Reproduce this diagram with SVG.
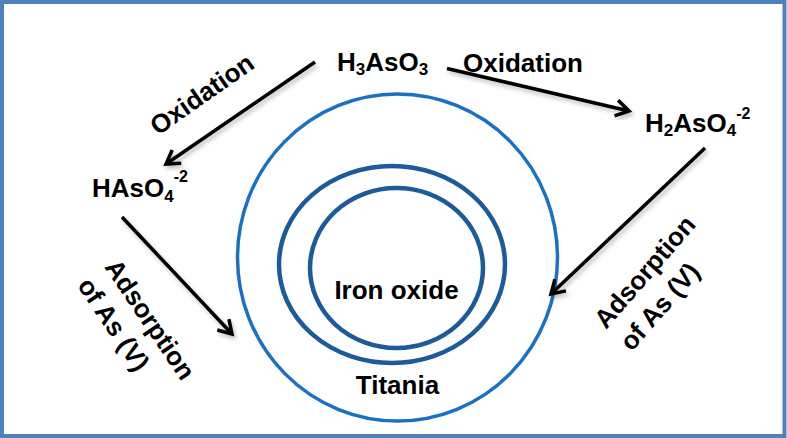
<svg xmlns="http://www.w3.org/2000/svg" width="787" height="438" viewBox="0 0 787 438">
<style>
text{font-family:"Liberation Sans",Arial,sans-serif;font-weight:bold;font-size:26px;fill:#000}
.sub{font-size:17px}
.sup{font-size:16px}
.conn{stroke:#000;stroke-width:3.5;fill:none;marker-end:url(#ah);filter:url(#sh)}
.outer{fill:none;stroke:#1a70c4;stroke-width:3.5}
.inner{fill:none;stroke:#1d5a9a;stroke-width:4.5}
</style>
<defs>
<marker id="ah" markerUnits="userSpaceOnUse" markerWidth="24" markerHeight="24" refX="0" refY="0" viewBox="-16 -12 20 24" orient="auto">
<path d="M-13,-8 L0,0 L-13,8" fill="none" stroke="#000" stroke-width="3.5" stroke-linejoin="miter"/>
</marker>
<filter id="sh" x="-20%" y="-20%" width="140%" height="140%">
<feDropShadow dx="2" dy="3" stdDeviation="2" flood-color="#000" flood-opacity="0.25"/>
</filter>
</defs>
<rect x="2" y="2" width="782.5" height="434" fill="#fff" stroke="#4f81bd" stroke-width="4"/>
<g id="titania">
<ellipse class="outer" cx="397.5" cy="257.5" rx="160" ry="163.5"/>
<text x="397.5" y="394" text-anchor="middle">Titania</text>
</g>
<g id="shell">
<ellipse class="inner" cx="392" cy="264.5" rx="113" ry="98.5"/>
</g>
<g id="ironoxide">
<ellipse class="inner" cx="396.5" cy="268" rx="86.5" ry="80"/>
<text x="396.5" y="299" text-anchor="middle">Iron oxide</text>
</g>
<g id="h3aso3">
<text x="337" y="71">H<tspan class="sub" dy="4">3</tspan><tspan dy="-4">AsO</tspan><tspan class="sub" dy="4">3</tspan></text>
</g>
<g id="h2aso4">
<text x="645" y="132">H<tspan class="sub" dy="4">2</tspan><tspan dy="-4">AsO</tspan><tspan class="sub" dy="4">4</tspan><tspan class="sup" dy="-17">-2</tspan></text>
</g>
<g id="haso4">
<text x="92" y="197">HAsO<tspan class="sub" dy="5">4</tspan><tspan class="sup" dy="-20">-2</tspan></text>
</g>
<g id="connectors">
<line class="conn" x1="315" y1="62" x2="166" y2="164"/>
<line class="conn" x1="447" y1="68.5" x2="629" y2="111"/>
<line class="conn" x1="122" y1="217" x2="232" y2="334"/>
<line class="conn" x1="705" y1="148" x2="551" y2="294"/>
</g>
<g id="labels">
<text transform="translate(207,101.5) rotate(-35)" text-anchor="middle">Oxidation</text>
<text x="463" y="72">Oxidation</text>
<text transform="translate(104,267) rotate(56)"><tspan x="0" y="0">Adsorption</tspan><tspan x="0" y="33">of As (V)</tspan></text>
<text transform="translate(606,330) rotate(-49)"><tspan x="0" y="0">Adsorption</tspan><tspan x="0" y="34">of As (V)</tspan></text>
</g>
</svg>
